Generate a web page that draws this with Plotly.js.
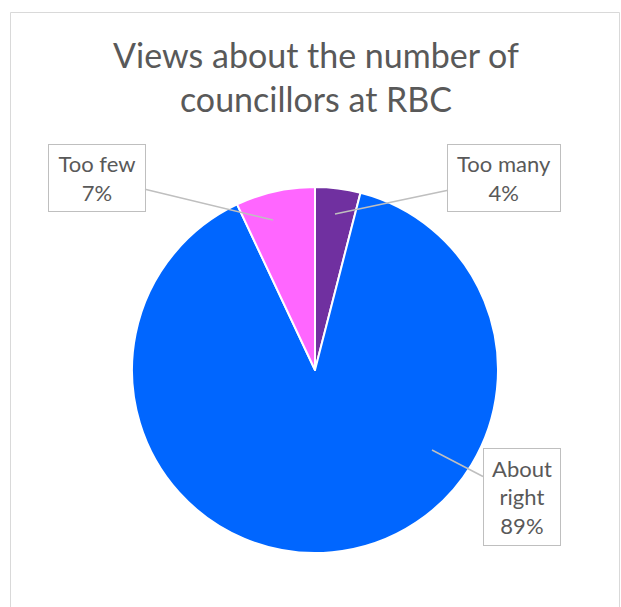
<!DOCTYPE html>
<html>
<head>
<meta charset="utf-8">
<script src="https://cdn.plot.ly/plotly-3.0.1.min.js"></script>
<style>html,body{margin:0;padding:0;background:#fff;}#chart{width:621px;height:607px;}</style>
</head>
<body>
<div id="chart"></div>
<script>
const categories = ["Too many", "About right", "Too few"];
const values = [4, 89, 7];
const colors = ["#7030A0", "#0066FF", "#FF66FF"];
const titleText = "Views about the number of<br>councillors at RBC";

const W = 621, H = 607;
const px = x => x / W;
const py = y => 1 - y / H;

// label layout: arrow tip and box centre (pixels)
const labelLayout = [
  {tip: [335, 214], box: [504.5, 178.5], w: 110, h: 64},
  {tip: [432, 450], box: [521.5, 496.5], w: 74, h: 94},
  {tip: [273, 220], box: [96.5, 177.5], w: 94, h: 64}
];

const annotations = categories.map((c, i) => {
  const L = labelLayout[i];
  const words = c.split(" ");
  const txt = (c === "About right" ? words.join("<br>") : c) + "<br>" + values[i] + "%";
  return {
    xref: "paper", yref: "paper",
    x: px(L.tip[0]), y: py(L.tip[1]),
    ax: L.box[0] - L.tip[0], ay: L.box[1] - L.tip[1],
    showarrow: true, arrowhead: 0, arrowwidth: 1.5, arrowcolor: "#BFBFBF",
    text: txt,
    font: {family: "Lato, 'Open Sans', sans-serif", size: 22, color: "#595959"},
    align: "center",
    width: L.w, height: L.h,
    bgcolor: "#FFFFFF", bordercolor: "#BFBFBF", borderwidth: 1, borderpad: 1
  };
});

const data = [{
  type: "pie",
  labels: categories,
  values: values,
  sort: false,
  direction: "clockwise",
  rotation: 0,
  marker: {colors: colors, line: {color: "#FFFFFF", width: 2}},
  textinfo: "none",
  hoverinfo: "label+percent",
  domain: {x: [px(132), px(498)], y: [py(553), py(187)]}
}];

const layout = {
  width: W, height: H,
  margin: {l: 0, r: 0, t: 0, b: 0},
  paper_bgcolor: "#FFFFFF",
  showlegend: false,
  title: {
    text: titleText,
    font: {family: "Lato, 'Open Sans', sans-serif", size: 34, color: "#595959"},
    x: px(316), xanchor: "center",
    y: py(68), yanchor: "middle",
    xref: "paper", yref: "paper"
  },
  shapes: [{
    type: "rect", xref: "paper", yref: "paper",
    x0: px(10.5), x1: px(619.5), y0: -0.05, y1: py(12.5),
    line: {color: "#D9D9D9", width: 1}, fillcolor: "rgba(0,0,0,0)", layer: "below"
  }],
  annotations: annotations
};

Plotly.newPlot("chart", data, layout, {displayModeBar: false, staticPlot: true});
</script>
</body>
</html>
